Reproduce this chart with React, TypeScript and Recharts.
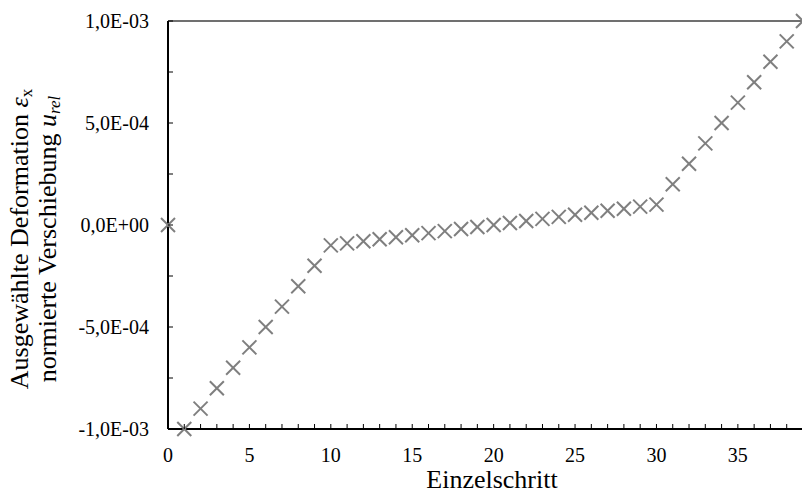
import { ScatterChart, Scatter, XAxis, YAxis, ReferenceLine } from 'recharts';

const steps = [
  0, 1, 2, 3, 4, 5, 6, 7, 8, 9, 10, 11, 12, 13, 14, 15, 16, 17, 18, 19,
  20, 21, 22, 23, 24, 25, 26, 27, 28, 29, 30, 31, 32, 33, 34, 35, 36, 37, 38, 39,
];

const deformation = [
  0, -1.0e-3, -9.0e-4, -8.0e-4, -7.0e-4, -6.0e-4, -5.0e-4, -4.0e-4, -3.0e-4, -2.0e-4,
  -1.0e-4, -9.0e-5, -8.0e-5, -7.0e-5, -6.0e-5, -5.0e-5, -4.0e-5, -3.0e-5, -2.0e-5, -1.0e-5,
  0, 1.0e-5, 2.0e-5, 3.0e-5, 4.0e-5, 5.0e-5, 6.0e-5, 7.0e-5, 8.0e-5, 9.0e-5,
  1.0e-4, 2.0e-4, 3.0e-4, 4.0e-4, 5.0e-4, 6.0e-4, 7.0e-4, 8.0e-4, 9.0e-4, 1.0e-3,
];

const xTicks = steps;
const yTicks = [-1.0e-3, -7.5e-4, -5.0e-4, -2.5e-4, 0, 2.5e-4, 5.0e-4, 7.5e-4, 1.0e-3];

const data = steps.map((s, i) => ({ step: s, value: deformation[i] }));

const FONT = '"Liberation Serif", "Times New Roman", serif';

const fmtSci = (v: number) => {
  const [m, e] = v.toExponential(1).split('e');
  const sign = e[0] === '-' ? '-' : '+';
  const digits = e.replace(/[+-]/, '').padStart(2, '0');
  return `${m.replace('.', ',')}E${sign}${digits}`;
};

const XTick = (props: any) => {
  const { x, y, payload } = props;
  const v = payload.value;
  return (
    <g>
      <line x1={x} x2={x} y1={y} y2={y - 5} stroke="#000" strokeWidth={1} />
      {v % 5 === 0 && (
        <text x={x} y={y + 33} textAnchor="middle" fontSize={20} fontFamily={FONT} fill="#000">
          {v}
        </text>
      )}
    </g>
  );
};

const YTick = (props: any) => {
  const { x, y, payload } = props;
  const v = payload.value;
  const major = Math.abs(v / 5e-4 - Math.round(v / 5e-4)) < 1e-6;
  return (
    <g>
      <line x1={x} x2={x + 5} y1={y} y2={y} stroke="#000" strokeWidth={1} />
      {major && (
        <text x={x - 19} y={y + 7} textAnchor="end" fontSize={20} fontFamily={FONT} fill="#000">
          {fmtSci(v)}
        </text>
      )}
    </g>
  );
};

const Cross = (props: any) => {
  const { cx, cy } = props;
  const r = 7;
  return (
    <g stroke="#7f7f7f" strokeWidth={2}>
      <line x1={cx - r} y1={cy - r} x2={cx + r} y2={cy + r} />
      <line x1={cx - r} y1={cy + r} x2={cx + r} y2={cy - r} />
    </g>
  );
};

const YLabel = () => (
  <g fontFamily={FONT} fontSize={26} fill="#000">
    <text x={28} y={239} textAnchor="middle" transform="rotate(-90, 28, 239)">
      Ausgewählte Deformation <tspan fontStyle="italic">ε</tspan>
      <tspan fontSize={17} dy={4}>x</tspan>
    </text>
    <text x={56} y={239} textAnchor="middle" transform="rotate(-90, 56, 239)">
      normierte Verschiebung <tspan fontStyle="italic">u</tspan>
      <tspan fontSize={17} fontStyle="italic" dy={4}>rel</tspan>
    </text>
  </g>
);

export default function App() {
  return (
    <div style={{ position: 'absolute', left: 0, top: 0, width: 802, height: 491, overflow: 'hidden', background: '#fff' }}>
      <ScatterChart width={804} height={491} margin={{ top: 21, right: 1, bottom: 0, left: 0 }}>
        <XAxis
          type="number"
          dataKey="step"
          domain={[0, 39]}
          ticks={xTicks}
          interval={0}
          tickSize={0}
          tickMargin={0}
          height={62}
          tick={<XTick />}
          axisLine={{ stroke: '#000', strokeWidth: 2 }}
          tickLine={false}
        />
        <YAxis
          type="number"
          dataKey="value"
          domain={[-1e-3, 1e-3]}
          ticks={yTicks}
          interval={0}
          tickSize={0}
          tickMargin={0}
          width={168}
          tick={<YTick />}
          axisLine={{ stroke: '#000', strokeWidth: 2 }}
          tickLine={false}
        />
        <ReferenceLine y={1e-3} stroke="#404040" strokeWidth={1.5} />
        <Scatter data={data} shape={<Cross />} isAnimationActive={false} />
        <YLabel />
        <text x={492} y={488} textAnchor="middle" fontSize={26} fontFamily={FONT} fill="#000">
          Einzelschritt
        </text>
      </ScatterChart>
    </div>
  );
}
